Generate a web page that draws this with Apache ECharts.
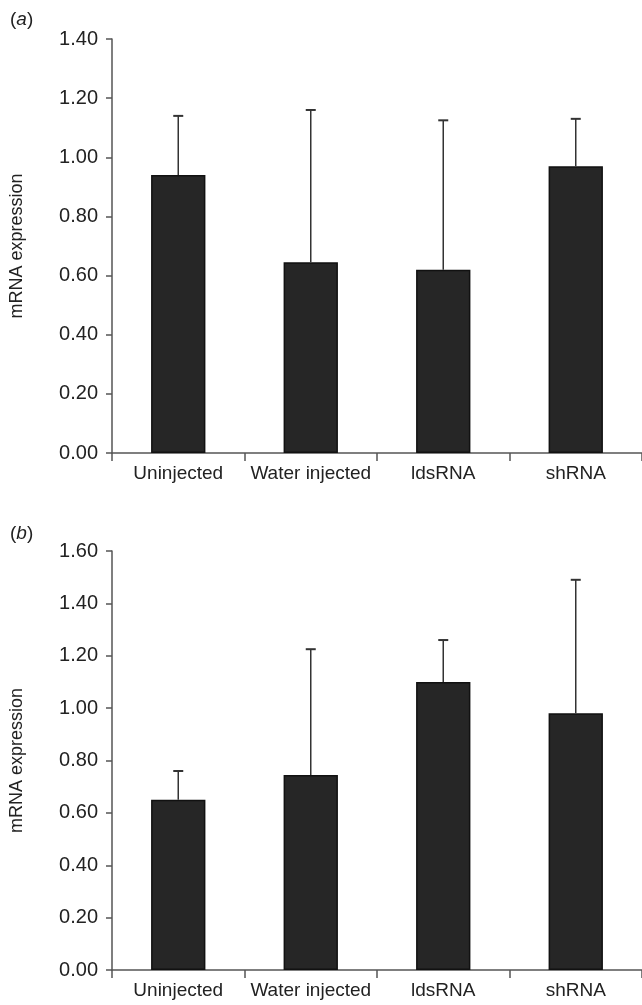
<!DOCTYPE html>
<html>
<head>
<meta charset="utf-8">
<script src="https://cdn.jsdelivr.net/npm/echarts@6/dist/echarts.min.js"></script>
<style>
html, body { margin: 0; padding: 0; background: #fff; }
#chart { width: 642px; height: 1005px; }
</style>
</head>
<body>
<div id="chart"></div>
<script>
// 数据
var categories = ['Uninjected', 'Water injected', 'ldsRNA', 'shRNA'];
var meanA = [0.94, 0.645, 0.62, 0.97];
var upperA = [1.14, 1.16, 1.125, 1.13];
var meanB = [0.65, 0.745, 1.10, 0.98];
var upperB = [0.76, 1.225, 1.26, 1.49];
var yTicksA = [0, 0.2, 0.4, 0.6, 0.8, 1.0, 1.2, 1.4];
var yTicksB = [0, 0.2, 0.4, 0.6, 0.8, 1.0, 1.2, 1.4, 1.6];

var FONT = '"Liberation Sans", Arial, sans-serif';
var AXIS_COLOR = '#555';

function errData(mean, upper) {
	var arr = [];
	for (var i = 0; i < mean.length; i++) {
		arr.push([i, mean[i], upper[i]]);
	}
	return arr;
}

// 误差线 (只画上半部分)
function errRender(params, api) {
	var p0 = api.coord([api.value(0), api.value(1)]);
	var p1 = api.coord([api.value(0), api.value(2)]);
	var hw = 5;
	return {
		type: 'group',
		children: [
			{ type: 'line', shape: { x1: p0[0], y1: p0[1], x2: p1[0], y2: p1[1] }, style: { stroke: '#333', lineWidth: 1.5 } },
			{ type: 'line', shape: { x1: p1[0] - hw, y1: p1[1], x2: p1[0] + hw, y2: p1[1] }, style: { stroke: '#333', lineWidth: 2 } }
		]
	};
}

function xAxisOpt(gridIndex) {
	return {
		type: 'category',
		gridIndex: gridIndex,
		data: categories,
		axisLine: { lineStyle: { color: AXIS_COLOR, width: 1.5 } },
		axisTick: { show: true, interval: 0, length: 8, lineStyle: { color: AXIS_COLOR, width: 1.5 } },
		axisLabel: { interval: 0, color: '#222', fontSize: 19, fontFamily: FONT, margin: 11 },
		splitLine: { show: false }
	};
}

function yAxisOpt(gridIndex, ticks) {
	return {
		type: 'value',
		gridIndex: gridIndex,
		min: ticks[0],
		max: ticks[ticks.length - 1],
		interval: ticks[1] - ticks[0],
		name: 'mRNA expression',
		nameLocation: 'middle',
		nameRotate: 90,
		nameGap: 86,
		nameTextStyle: { color: '#222', fontSize: 18, fontFamily: FONT },
		axisLine: { show: true, lineStyle: { color: AXIS_COLOR, width: 1.5 } },
		axisTick: { show: true, length: 6, lineStyle: { color: AXIS_COLOR, width: 1.5 } },
		axisLabel: {
			color: '#222', fontSize: 20, fontFamily: FONT, margin: 14,
			formatter: function (v) { return v.toFixed(2); }
		},
		splitLine: { show: false }
	};
}

function panelTitle(letter, top) {
	return {
		text: '{n|(}{i|' + letter + '}{n|)}',
		left: 5,
		top: top,
		textStyle: {
			rich: {
				n: { fontSize: 19, color: '#222', fontFamily: FONT, fontWeight: 'normal' },
				i: { fontSize: 19, color: '#222', fontFamily: FONT, fontWeight: 'normal', fontStyle: 'italic' }
			}
		}
	};
}

var barStyle = { color: '#262626', borderColor: '#111', borderWidth: 1.5 };

var chart = echarts.init(document.getElementById('chart'), null, { renderer: 'canvas' });
var option = {
	backgroundColor: '#fff',
	animation: false,
	title: [panelTitle('a', 5), panelTitle('b', 519)],
	grid: [
		{ left: 106, top: 39, width: 536, height: 414 },
		{ left: 107, top: 551, width: 535, height: 419 }
	],
	xAxis: [xAxisOpt(0), xAxisOpt(1)],
	yAxis: [yAxisOpt(0, yTicksA), yAxisOpt(1, yTicksB)],
	series: [
		{ type: 'bar', xAxisIndex: 0, yAxisIndex: 0, data: meanA, barWidth: '41%', itemStyle: barStyle },
		{ type: 'custom', xAxisIndex: 0, yAxisIndex: 0, data: errData(meanA, upperA), renderItem: errRender, z: 5 },
		{ type: 'bar', xAxisIndex: 1, yAxisIndex: 1, data: meanB, barWidth: '41%', itemStyle: barStyle },
		{ type: 'custom', xAxisIndex: 1, yAxisIndex: 1, data: errData(meanB, upperB), renderItem: errRender, z: 5 }
	]
};
chart.setOption(option);
</script>
</body>
</html>
